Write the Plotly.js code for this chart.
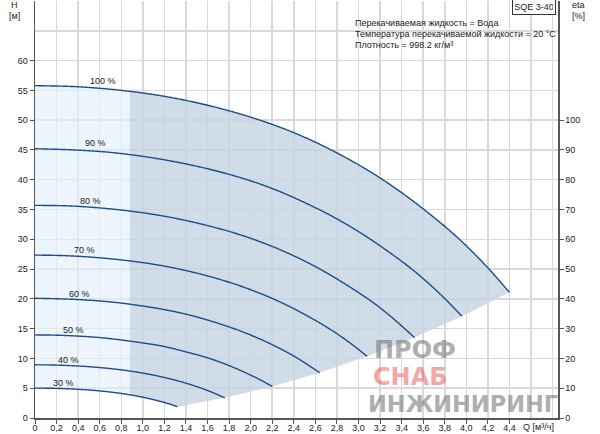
<!DOCTYPE html>
<html><head><meta charset="utf-8">
<script src="https://cdn.plot.ly/plotly-3.0.1.min.js"></script>
<style>html,body{margin:0;padding:0;background:#fff}#chart{width:600px;height:434px}</style>
</head><body><div id="chart"></div>
<script>
// ---- data ----
const curveNames = ['100 %','90 %','80 %','70 %','60 %','50 %','40 %','30 %'];
const q100 = [0,0.4,0.8,1.2,1.6,2.0,2.4,2.8,3.2,3.6,4.0,4.2,4.4];
const h100 = [55.8,55.6,55.0,54.0,52.5,50.5,47.9,44.5,40.3,35.1,28.9,25.2,21.1];
const q90 = [0,0.36,0.72,1.08,1.44,1.8,2.16,2.52,2.88,3.24,3.6,3.78,3.96];
const h90 = [45.2,45.0,44.55,43.7,42.5,40.9,38.8,36.0,32.6,28.4,23.4,20.4,17.1];
const q80 = [0,0.32,0.64,0.96,1.28,1.6,1.92,2.24,2.56,2.88,3.2,3.36,3.52];
const h80 = [35.7,35.6,35.2,34.55,33.6,32.3,30.65,28.5,25.8,22.45,18.5,16.1,13.5];
const q70 = [0,0.28,0.56,0.84,1.12,1.4,1.68,1.96,2.24,2.52,2.8,2.94,3.08];
const h70 = [27.35,27.25,26.95,26.45,25.75,24.75,23.45,21.8,19.75,17.2,14.15,12.35,10.35];
const q60 = [0,0.24,0.48,0.72,0.96,1.2,1.44,1.68,1.92,2.16,2.4,2.52,2.64];
const h60 = [20.1,20.0,19.8,19.45,18.9,18.2,17.25,16.0,14.5,12.65,10.4,9.05,7.6];
const q50 = [0,0.2,0.4,0.6,0.8,1.0,1.2,1.4,1.6,1.8,2.0,2.1,2.2];
const h50 = [13.95,13.9,13.75,13.5,13.1,12.6,12.0,11.1,10.1,8.8,7.2,6.3,5.3];
const q40 = [0,0.16,0.32,0.48,0.64,0.8,0.96,1.12,1.28,1.44,1.6,1.68,1.76];
const h40 = [8.93,8.9,8.8,8.64,8.4,8.08,7.66,7.12,6.45,5.62,4.62,4.03,3.38];
const q30 = [0,0.12,0.24,0.36,0.48,0.6,0.72,0.84,0.96,1.08,1.2,1.26,1.32];
const h30 = [5.02,5.0,4.95,4.86,4.73,4.55,4.31,4.01,3.63,3.16,2.6,2.27,1.9];
const splitQ = 0.88;   // boundary between light and dark shading

const xTickVals = [0,0.2,0.4,0.6,0.8,1.0,1.2,1.4,1.6,1.8,2.0,2.2,2.4,2.6,2.8,3.0,3.2,3.4,3.6,3.8,4.0,4.2,4.4];
const xTickText = ['0','0,2','0,4','0,6','0,8','1,0','1,2','1,4','1,6','1,8','2,0','2,2','2,4','2,6','2,8','3,0','3,2','3,4','3,6','3,8','4,0','4,2','4,4'];
const xGridExtra = [4.6,4.8];
const yTickVals = [0,5,10,15,20,25,30,35,40,45,50,55,60];
const yTickText = ['0','5','10','15','20','25','30','35','40','45','50','55','60'];
const yGridExtra = [65,70];
const etaTickVals = [0,10,20,30,40,50,60,70,80,90,100];
const etaTickText = ['0','10','20','30','40','50','60','70','80','90','100'];

const labelQ = [0.63,0.56,0.51,0.46,0.41,0.36,0.31,0.26];
const labelH = [56.6,46.2,36.5,28.2,20.9,14.8,9.8,5.9];
const infoLines = ['Перекачиваемая жидкость = Вода','Температура перекачиваемой жидкости = 20 °C','Плотность = 998.2 кг/м³'];
const pumpName = 'SQE 3-40';
const watermark = ['ПРОФ','СНАБ','ИНЖИНИРИНГ'];

// ---- helpers ----
function densify(xs, ys, steps) {
  const n = xs.length, m = [];
  for (let i = 0; i < n; i++) {
    if (i === 0) m.push((ys[1]-ys[0])/(xs[1]-xs[0]));
    else if (i === n-1) m.push((ys[n-1]-ys[n-2])/(xs[n-1]-xs[n-2]));
    else {
      const d0 = (ys[i]-ys[i-1])/(xs[i]-xs[i-1]), d1 = (ys[i+1]-ys[i])/(xs[i+1]-xs[i]);
      const a = xs[i]-xs[i-1], b = xs[i+1]-xs[i];
      m.push((d1*a + d0*b)/(a+b));
    }
  }
  const ox = [xs[0]], oy = [ys[0]];
  for (let i = 0; i < n-1; i++) {
    const dxx = xs[i+1]-xs[i];
    for (let s = 1; s <= steps; s++) {
      const t = s/steps, t2 = t*t, t3 = t2*t;
      const y = (2*t3-3*t2+1)*ys[i] + (t3-2*t2+t)*dxx*m[i] + (-2*t3+3*t2)*ys[i+1] + (t3-t2)*dxx*m[i+1];
      ox.push(xs[i]+t*dxx); oy.push(y);
    }
  }
  return {x: ox, y: oy};
}
function valAt(c, q) {
  for (let i = 0; i < c.x.length-1; i++) {
    if (q >= c.x[i] && q <= c.x[i+1]) {
      const t = (q-c.x[i])/(c.x[i+1]-c.x[i]);
      return c.y[i] + t*(c.y[i+1]-c.y[i]);
    }
  }
  return c.y[c.x.length-1];
}

const qs = [q100,q90,q80,q70,q60,q50,q40,q30];
const hs = [h100,h90,h80,h70,h60,h50,h40,h30];
const dense = qs.map((q,i) => densify(q, hs[i], 20));
const topCurve = dense[0], botCurve = dense[dense.length-1];

// light region
const lx = [], ly = [];
topCurve.x.forEach((x,i) => { if (x < splitQ) { lx.push(x); ly.push(topCurve.y[i]); } });
lx.push(splitQ); ly.push(valAt(topCurve, splitQ));
lx.push(splitQ); ly.push(valAt(botCurve, splitQ));
for (let i = botCurve.x.length-1; i >= 0; i--) if (botCurve.x[i] < splitQ) { lx.push(botCurve.x[i]); ly.push(botCurve.y[i]); }

// dark region
const rx = [splitQ], ry = [valAt(topCurve, splitQ)];
topCurve.x.forEach((x,i) => { if (x > splitQ) { rx.push(x); ry.push(topCurve.y[i]); } });
for (let k = 1; k < qs.length; k++) { rx.push(qs[k][qs[k].length-1]); ry.push(hs[k][hs[k].length-1]); }
for (let i = botCurve.x.length-1; i >= 0; i--) if (botCurve.x[i] > splitQ) { rx.push(botCurve.x[i]); ry.push(botCurve.y[i]); }
rx.push(splitQ); ry.push(valAt(botCurve, splitQ));

const traces = [
  {x: lx, y: ly, mode:'lines', fill:'toself', fillcolor:'rgba(228,240,252,0.66)', line:{width:0}, hoverinfo:'skip'},
  {x: rx, y: ry, mode:'lines', fill:'toself', fillcolor:'rgba(198,213,228,0.82)', line:{width:0}, hoverinfo:'skip'}
];
dense.forEach((c,i) => traces.push({x:c.x, y:c.y, mode:'lines', name:curveNames[i], line:{color:'#1d4d8a', width:1.4, shape:'spline', smoothing:0.8}, hoverinfo:'skip'}));
traces.push({x:[null], y:[null], yaxis:'y2', mode:'markers', hoverinfo:'skip'});

const PX = px => (px-35)/523, PY = py => (418-py)/417;
const ann = [];
const txt = (text, x, y, opts) => ann.push(Object.assign({text, x, y, xref:'paper', yref:'paper', xanchor:'center', yanchor:'middle', showarrow:false, font:{size:9, color:'#222'}}, opts||{}));
txt('H', PX(14), PY(5));
txt('[м]', PX(14), PY(16));
txt('eta', PX(578), PY(5));
txt('[%]', PX(578), PY(16));
infoLines.forEach((l,i) => txt(l, PX(353), PY(22.5 + i*11.2), {xanchor:'left'}));
txt(pumpName, PX(534.2), PY(7), {bordercolor:'#333', borderwidth:1, bgcolor:'#fff', borderpad:2, width:38});
txt('Q [м³/ч]', PX(538.5), PY(427));
curveNames.forEach((n,i) => ann.push({text:n, x:labelQ[i], y:labelH[i], xref:'x', yref:'y', xanchor:'center', yanchor:'middle', showarrow:false, font:{size:9, color:'#222'}}));
const wmFont = (c, s) => ({family:'DejaVu Sans', size:s, weight:'bold', color:c});
txt('<b>' + watermark[0] + '</b>', PX(415), PY(350), {font:wmFont('rgba(105,105,105,0.55)', 24)});
txt('<b>' + watermark[1] + '</b>', PX(410), PY(377), {font:wmFont('rgba(232,80,80,0.5)', 24)});
txt('<b>' + watermark[2] + '</b>', PX(463), PY(404), {font:wmFont('rgba(105,105,105,0.55)', 22.5)});

const gridCol = '#d9d9d9';
const layout = {
  width:600, height:434, margin:{l:35, r:42, t:1, b:16, pad:0},
  paper_bgcolor:'#fff', plot_bgcolor:'#fff', showlegend:false,
  font:{family:'Liberation Sans, Arial, sans-serif', size:9, color:'#222'},
  xaxis:{range:[0,4.85], tickmode:'array', tickvals:xTickVals, ticktext:xTickText, ticks:'outside', ticklen:4, tickwidth:1, tickcolor:'#555',
    ticklabelstandoff:-3,
    showgrid:true, gridcolor:gridCol, gridwidth:1.5,
    minor:{tickmode:'array', tickvals:xGridExtra, ticks:'', showgrid:true, gridcolor:gridCol, gridwidth:1.5},
    zeroline:false, showline:true, linecolor:'#555', linewidth:1.5, automargin:false, fixedrange:true},
  yaxis:{range:[0,70], tickmode:'array', tickvals:yTickVals, ticktext:yTickText, ticks:'outside', ticklen:4, tickwidth:1, tickcolor:'#555',
    showgrid:true, gridcolor:gridCol, gridwidth:1.5,
    minor:{tickmode:'array', tickvals:yGridExtra, ticks:'', showgrid:true, gridcolor:gridCol, gridwidth:1.5},
    zeroline:false, showline:true, linecolor:'#555', linewidth:1.5, automargin:false, fixedrange:true},
  yaxis2:{overlaying:'y', side:'right', anchor:'x', range:[0,140], tickmode:'array', tickvals:etaTickVals, ticktext:etaTickText,
    ticks:'outside', ticklen:4, tickwidth:1, tickcolor:'#555', showgrid:false, zeroline:false, showline:true, linecolor:'#555', linewidth:1.5,
    automargin:false, fixedrange:true},
  annotations: ann
};
Plotly.newPlot('chart', traces, layout, {displayModeBar:false, staticPlot:true});
</script></body></html>
